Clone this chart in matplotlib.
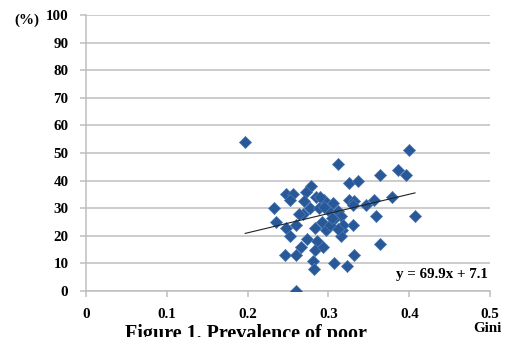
import numpy as np
import matplotlib.pyplot as plt

# Gini coefficient vs prevalence of poor (%)
gini = [0.197, 0.399, 0.312, 0.386, 0.364, 0.396, 0.325, 0.337, 0.278, 0.272,
        0.248, 0.256, 0.253, 0.270, 0.284, 0.295, 0.305, 0.290, 0.325, 0.332,
        0.346, 0.356, 0.378, 0.233, 0.235, 0.269, 0.277, 0.288, 0.300, 0.312,
        0.315, 0.330, 0.359, 0.407, 0.248, 0.260, 0.253, 0.283, 0.292, 0.297,
        0.307, 0.317, 0.316, 0.330, 0.318, 0.273, 0.286, 0.266, 0.283, 0.293,
        0.364, 0.246, 0.260, 0.331, 0.281, 0.307, 0.323, 0.282, 0.260, 0.263,
        0.302, 0.304, 0.312, 0.294]
poor = [54, 51, 46, 44, 42, 42, 39, 40, 38, 36,
        35, 35, 33, 32.5, 34, 33, 32, 34, 33, 32.5,
        31, 33, 34, 30, 25, 28, 30, 30, 29.5, 29,
        27, 31, 27, 27, 23, 24, 20, 23, 25, 22,
        26, 22, 20, 24, 24, 19, 18, 16, 15, 16,
        17, 13, 13, 13, 11, 10, 9, 8, 0, 28,
        24, 26.5, 22.5, 30.5]

# linear trendline as printed on the chart
slope = 69.9
intercept = 7.1

xticks = [0, 0.1, 0.2, 0.3, 0.4, 0.5]
xticklabels = ['0', '0.1', '0.2', '0.3', '0.4', '0.5']
yticks = list(range(0, 101, 10))

serif = 'Liberation Serif'
grid_c = '#BEBEBE'
dot_c = '#285898'

fig = plt.figure(figsize=(5.08, 3.37), dpi=100)
ax = fig.add_axes([0.169, 0.1365, 0.796, 0.819])

ax.set_xlim(0, 0.5)
ax.set_ylim(0, 100)
ax.set_yticks(yticks)
ax.set_xticks(xticks)
ax.set_xticklabels(xticklabels)
ax.yaxis.grid(True, color=grid_c, linewidth=1.1)
ax.set_axisbelow(True)

for s in ['top', 'right']:
    ax.spines[s].set_visible(False)
for s in ['left', 'bottom']:
    ax.spines[s].set_color(grid_c)
    ax.spines[s].set_linewidth(1.1)

ax.tick_params(axis='y', length=4.5, color=grid_c, width=1.1, pad=8)
ax.tick_params(axis='x', length=4, color=grid_c, width=1.1, pad=8)
for lab in ax.get_xticklabels() + ax.get_yticklabels():
    lab.set_fontfamily(serif)
    lab.set_fontweight('bold')
    lab.set_fontsize(10.8)

ax.scatter(gini, poor, marker='D', s=38, color=dot_c, edgecolor='#4A78B0',
           linewidth=0.5, zorder=3)

xs = np.array([min(gini), max(gini)])
ax.plot(xs, slope * xs + intercept, color='#222222', linewidth=0.8, zorder=4)

ax.text(0.497, 5.8, 'y = 69.9x + 7.1', family=serif, weight='bold',
        fontsize=10.8, ha='right', va='center')

fig.text(14 / 508, 1 - 20 / 337, '(%)', family=serif, weight='bold',
         fontsize=10.8, ha='left', va='center')
fig.text(502 / 508, 1 - 328 / 337, 'Gini', family=serif, weight='bold',
         fontsize=10.8, ha='right', va='center')
fig.text(246 / 508, 1 - 324 / 337, 'Figure 1. Prevalence of poor', family=serif,
         weight='bold', fontsize=14.5, ha='center', va='top')

fig.savefig('out.png', dpi=100)
